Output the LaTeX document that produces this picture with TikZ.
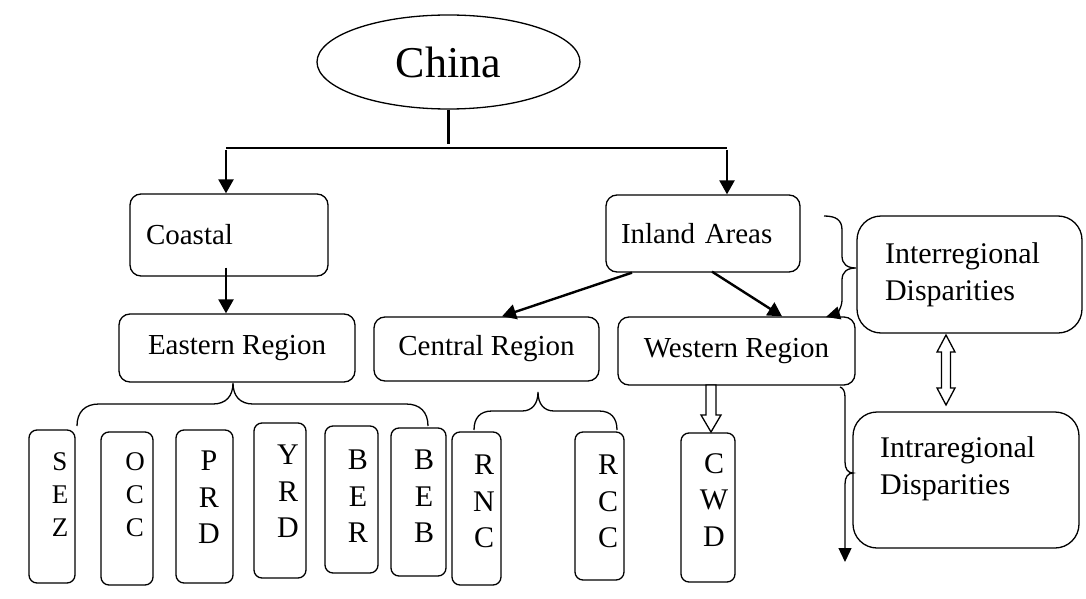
\documentclass[tikz,border=0pt]{standalone}
\usepackage{fontspec}
\setmainfont{Liberation Serif}
\usetikzlibrary{shapes.geometric,arrows.meta,calc}
\begin{document}
\begin{tikzpicture}[x=1pt,y=-1pt,
  box/.style={draw, line width=1.3pt, rounded corners=11pt, inner sep=0pt, font=\fontsize{29}{35}\selectfont},
  bigbox/.style={box, rounded corners=24pt, font=\fontsize{30}{37}\selectfont},
  lbox/.style={draw, line width=1.3pt, rounded corners=8pt, inner sep=0pt},
  ltxt/.style={anchor=north, inner sep=0pt, align=center, font=\fontsize{30}{36.5}\selectfont},
  ltxts/.style={ltxt, font=\fontsize{27}{33}\selectfont},
  arr/.style={line width=2.4pt, -{Triangle[width=15pt,length=14pt]}},
  brc/.style={line width=1.3pt},
  brarr/.style={brc, -{Triangle[width=13pt,length=14pt]}},
  hollow/.style={draw, line width=1.3pt, fill=white, line join=miter}
]
\useasboundingbox (0,0) rectangle (1086,599);

% top
\node[draw, ellipse, line width=1.3pt, minimum width=263pt, minimum height=94pt, inner sep=0pt,
      font=\fontsize{44}{50}\selectfont] (china) at (448.5,62) {China};

\node[box, minimum width=198pt, minimum height=82pt, inner xsep=16pt, text width=166pt, align=left] (coastal) at (229,235) {Coastal};
\node[box, minimum width=194pt, minimum height=77pt, inner xsep=15pt, text width=164pt, align=left] (inland) at (703,233.5) {Inland Areas};

\node[box, minimum width=236pt, minimum height=68pt] (east) at (237,348) {Eastern Region};
\node[box, minimum width=225pt, minimum height=64pt] (central) at (486.5,349) {Central Region};
\node[box, minimum width=237pt, minimum height=68pt] (west) at (736.5,351) {Western Region};

\node[bigbox, minimum width=225pt, minimum height=117pt, inner xsep=28pt, text width=169pt, align=left] (inter) at (969.5,274.5) {Interregional\\Disparities};
\node[bigbox, minimum width=226pt, minimum height=136pt] (intra) at (966,480) {};
\node[anchor=north west, inner sep=0pt, align=left, font=\fontsize{30}{37}\selectfont] (intrat) at (880,436) {Intraregional\\Disparities};

% letter boxes
\node[lbox, minimum width=46pt, minimum height=153pt] (sez) at (52,506.5) {};
\node[ltxts] (sezt) at (60,452) {S\\E\\Z};
\node[lbox, minimum width=52pt, minimum height=153pt] (occ) at (127,508.5) {};
\node[ltxts] (occt) at (135,452) {O\\C\\C};
\node[lbox, minimum width=57pt, minimum height=153pt] (prd) at (204.5,506.5) {};
\node[ltxt] (prdt) at (209,451) {P\\R\\D};
\node[lbox, minimum width=52pt, minimum height=155pt] (yrd) at (280,500.5) {};
\node[ltxt] (yrdt) at (288,445) {Y\\R\\D};
\node[lbox, minimum width=53pt, minimum height=147pt] (ber) at (351.5,499.5) {};
\node[ltxt] (bert) at (358,450) {B\\E\\R};
\node[lbox, minimum width=55pt, minimum height=148pt] (beb) at (418.5,502) {};
\node[ltxt] (bebt) at (424,450) {B\\E\\B};
\node[lbox, minimum width=49pt, minimum height=153pt] (rnc) at (476.5,508.5) {};
\node[ltxt] (rnct) at (484,455) {R\\N\\C};
\node[lbox, minimum width=49pt, minimum height=148pt] (rcc) at (599.5,506) {};
\node[ltxt] (rcct) at (608,455) {R\\C\\C};
\node[lbox, minimum width=54pt, minimum height=149pt] (cwd) at (708,507.5) {};
\node[ltxt] (cwdt) at (714,453) {C\\W\\D};

% China connectors
\coordinate (bl) at (226,148);
\coordinate (br) at (727,148);
\draw[line width=3pt] (china.south) -- (china.south |- 0,144);
\draw[line width=2.6pt] (bl) -- (br);
\draw[arr] ([yshift=-1.5pt]bl) -- (bl |- coastal.north);
\draw[arr] ([yshift=-1.5pt]br) -- (br |- inland.north);
\draw[arr] ([xshift=-3pt,yshift=9pt]coastal.south) -- ([xshift=-3pt]coastal.south |- east.north);
\draw[arr] ([xshift=-71pt]inland.south) -- ([xshift=15.5pt]central.north);
\draw[arr] ([xshift=9pt,yshift=1pt]inland.south) -- ([xshift=45.5pt]west.north);

% Eastern brace
\draw[brc] (77,426) .. controls (77,412) and (85,404) .. (99,404) -- (213,404)
  .. controls (226,404) and (233,396) .. (233,383)
  .. controls (233,396) and (240,404) .. (253,404) -- (406,404)
  .. controls (420,404) and (428,412) .. (428,426);

% Central brace
\draw[brc] (474,430) .. controls (474,418) and (480,411) .. (492,411) -- (522,411)
  .. controls (532,411) and (538,404) .. (538,392)
  .. controls (538,404) and (544,411) .. (554,411) -- (599,411)
  .. controls (611,411) and (617,418) .. (617,430);

% Inland -> Interregional brace with arrow to Western
\draw[brarr] (824,216) .. controls (836,216) and (842,220) .. (842,230) -- (842,256)
  .. controls (842,264) and (847,268) .. (856,268)
  .. controls (847,268) and (842,272) .. (842,280) -- (842,300)
  .. controls (842,308) and (836,314) .. (826,317);

% Western -> Intraregional brace with arrow
\draw[brarr] (840,387) .. controls (843,388) and (845,391) .. (845,397) -- (845,462)
  .. controls (845,469) and (848,473) .. (853,473)
  .. controls (848,473) and (845,477) .. (845,484) -- (845,562);

% hollow arrow Western -> CWD
\draw[hollow] (706,385) -- (716,385) -- (716,415) -- (721,415) -- (711,432) -- (701,415) -- (706,415) -- cycle;

% hollow double arrow Inter <-> Intra
\draw[hollow] (946,335) -- (955,352) -- (950.5,352) -- (950.5,388) -- (955,388) -- (946,405)
  -- (937,388) -- (941.5,388) -- (941.5,352) -- (937,352) -- cycle;
\end{tikzpicture}
\end{document}
